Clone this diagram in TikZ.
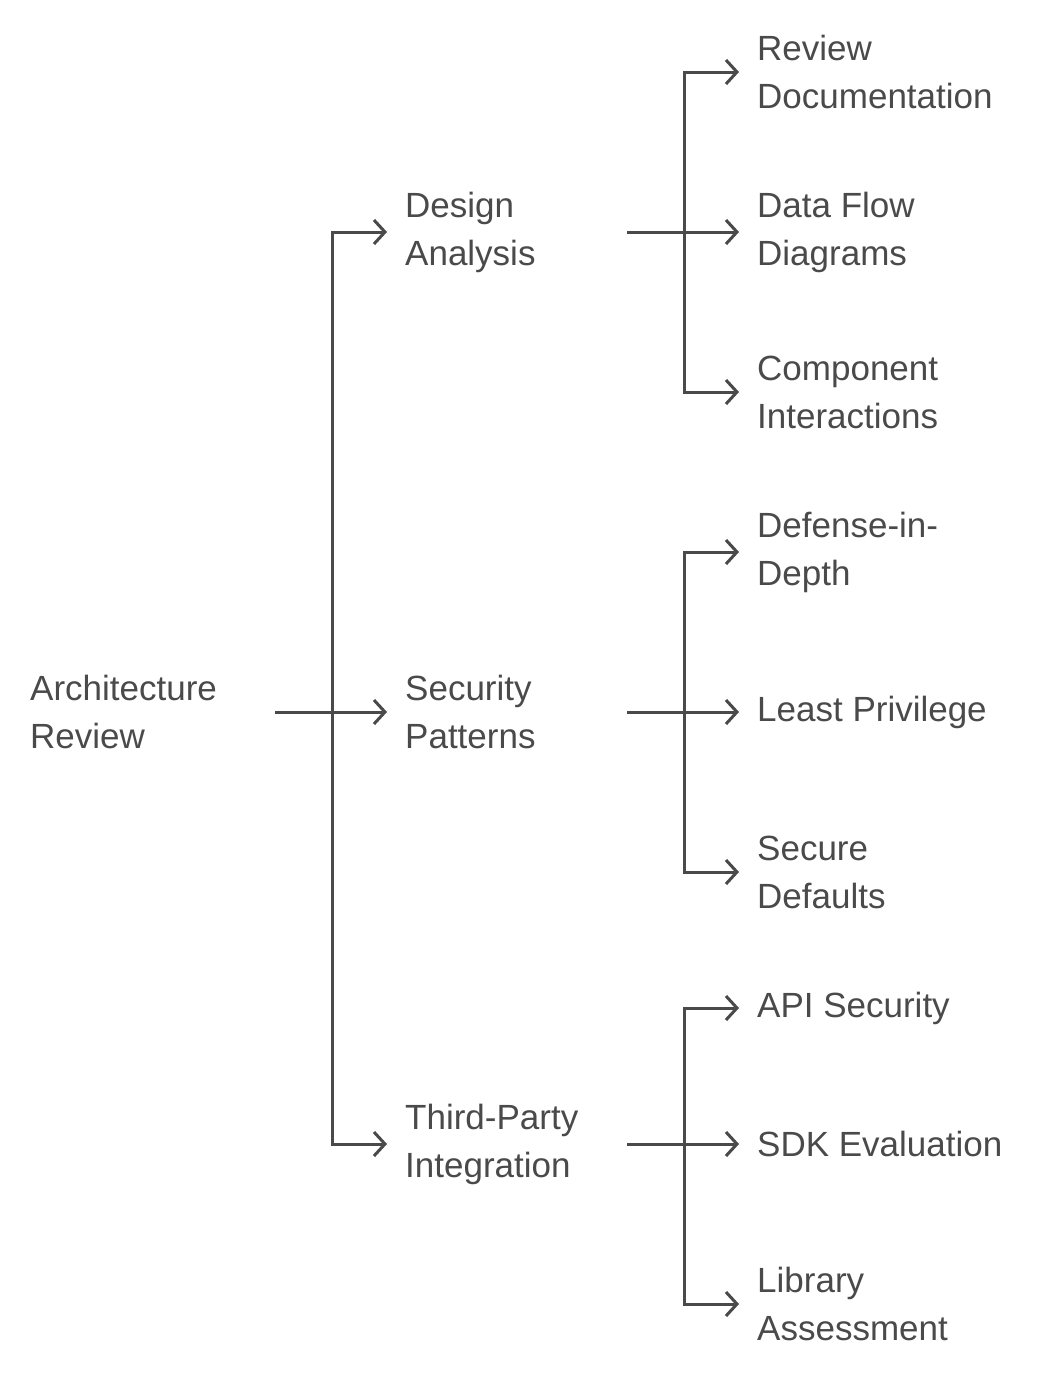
\documentclass[tikz,border=0pt]{standalone}
\usepackage{fontspec}
\setmainfont{Liberation Sans}
\usetikzlibrary{arrows.meta}
\definecolor{ink}{HTML}{4A4A4A}
\begin{document}
\begin{tikzpicture}[x=1pt,y=-1pt,
  lbl/.style={anchor=west,inner sep=0pt,align=left,text=ink,font=\fontsize{35}{48}\selectfont},
  con/.style={draw=ink,line width=3pt},
  arr/.style={con,-{Straight Barb[length=11pt,width=24pt,line width=3pt]}}]
\useasboundingbox (0,0) rectangle (1064,1376);
\node[lbl] (root) at (30,712) {Architecture\\Review};
\node[lbl] (da) at (405,232) {Design\\Analysis};
\node[lbl] (sp) at (405,712) {Security\\Patterns};
\node[lbl] (tp) at (405,1144) {Third-Party\\Integration};
\node[lbl] (l1) at (757,72) {Review\\Documentation};
\node[lbl] (l2) at (757,232) {Data Flow\\Diagrams};
\node[lbl] (l3) at (757,392) {Component\\Interactions};
\node[lbl] (l4) at (757,552) {Defense-in-\\Depth};
\node[lbl] (l5) at (757,712) {Least Privilege};
\node[lbl] (l6) at (757,872) {Secure\\Defaults};
\node[lbl] (l7) at (757,1008) {API Security};
\node[lbl] (l8) at (757,1144) {SDK Evaluation};
\node[lbl] (l9) at (757,1304) {Library\\Assessment};
\coordinate (rs) at (275,712);
\coordinate (j0) at (332,712);
\foreach \t/\y in {da/232,sp/712,tp/1144}{\draw[arr] (rs) -| (332,\y) -- (387,\y);}
\foreach \s/\a/\b/\c in {da/72/232/392,sp/552/712/872,tp/1008/1144/1304}{
  \coordinate (s) at (627,\b);
  \draw[con] (s) -- (684,\b);
  \foreach \y in {\a,\b,\c}{\draw[arr] (684,\b) |- (739,\y);}
}
\end{tikzpicture}
\end{document}
